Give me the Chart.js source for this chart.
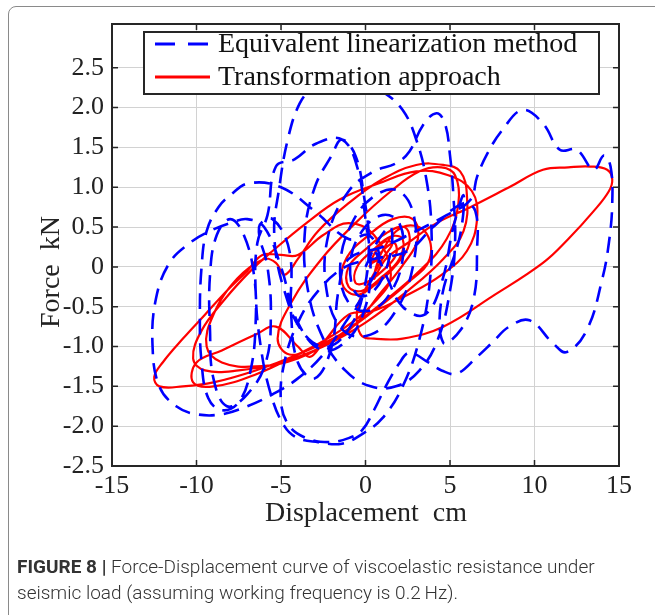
<!DOCTYPE html>
<html>
<head>
<meta charset="utf-8">
<script src="https://cdn.jsdelivr.net/npm/chart.js@4.4.1/dist/chart.umd.min.js"></script>
<style>
body{margin:0;background:#fff;}
#wrap{position:relative;width:655px;height:615px;overflow:hidden;background:#fff;}
#frame{position:absolute;left:8px;top:6px;width:700px;height:700px;border:1.5px solid #8a8a8a;border-radius:8px;}
#graf{position:absolute;left:0;top:0;}
.ttl{position:absolute;font-family:"Liberation Serif",serif;font-size:28px;line-height:28px;color:#222;white-space:pre;text-align:center;width:300px;}
#xt{left:216px;top:498px;}
#yt{left:-100px;top:258px;transform:rotate(-90deg);}
#cap{position:absolute;left:17px;top:554px;font-family:Roboto,sans-serif;font-size:19px;line-height:26px;color:#333;font-weight:300;}
#cap b{font-weight:700;}
</style>
</head>
<body>
<div id="wrap">
<div id="frame"></div>
<canvas id="graf" width="655" height="615"></canvas>
<div class="ttl" id="xt">Displacement  cm</div>
<div class="ttl" id="yt">Force  kN</div>
<div id="cap"><b>FIGURE 8 |</b> Force-Displacement curve of viscoelastic resistance under<br>seismic load (assuming working frequency is 0.2&#8201;Hz).</div>
</div>
<script>
// ticks
const xTicks=[-15,-10,-5,0,5,10,15];
const yTicks=[-2.5,-2.0,-1.5,-1.0,-0.5,0,0.5,1.0,1.5,2.0,2.5];

// Equivalent linearization method (blue, dashed)
const eqlDisp=[0.0,0.8,1.5,1.4,0.5,-0.5,-0.9,-0.2,1.0,2.0,2.2,1.4,0.2,-1.0,-1.5,-0.8,0.6,2.0,2.9,2.8,1.8,0.3,-1.3,-2.3,-2.2,-1.0,
0.5,1.8,2.6,3.4,4.2,4.7,5.0,5.2,5.3,5.0,4.3,3.2,1.8,0.3,-1.2,-2.5,-3.4,-3.6,-3.0,-2.0,-1.4,-0.6,-0.1,0.2,-0.1,-0.9,-2.2,-3.6,-4.8,-5.4,-5.1,
-4.6,-3.9,-3.1,-2.0,-0.5,1.0,2.2,3.0,3.6,3.9,3.8,3.2,2.2,1.0,-0.2,-1.4,-2.8,-4.0,-4.8,-5.6,-6.2,-6.5,-6.4,-5.8,
-5.3,-4.2,-2.9,-1.4,-0.5,0.0,0.3,0.0,-1.0,-2.5,-4.0,-5.0,-6.0,-7.0,
-8.0,-9.2,-10.4,-11.6,-12.4,-12.6,-12.2,-11.2,-10.0,-8.5,-7.0,-5.5,-4.0,-2.5,-1.2,0.0,0.8,0.2,-1.0,
-3.0,-5.0,-6.9,-8.0,-8.7,-9.4,-9.7,-9.8,-9.7,-9.3,-8.5,-7.5,-6.8,-6.5,-6.6,-7.2,-8.0,-8.8,-9.2,-9.2,-9.0,-8.2,-7.0,-5.9,-5.6,-5.8,-6.3,-5.5,-4.5,-4.4,-4.0,-3.0,-2.0,-1.6,-1.0,
1.0,3.0,4.8,6.2,6.6,7.2,8.1,9.3,10.5,11.5,12.5,13.5,14.1,14.5,14.6,14.4,14.0,13.1,11.9,11.1,9.7,8.5,7.5,6.6,5.4,4.5,3.8,2.6,2.0,1.2,0.5,-0.2,
-1.0,-2.2,-3.5,-4.5,-5.0,-4.8,-4.0,-2.8,-1.2,
0.5,2.5,4.0,5.8,6.5,6.6,6.4,5.6,4.6,4.5,5.6,5.8,5.2,4.5,3.5,2.2,1.2,0.5,0.2];
const eqlForce=[0.0,0.35,0.5,0.1,-0.3,-0.35,0.05,0.45,0.65,0.55,0.1,-0.35,-0.55,-0.45,0.0,0.55,0.9,0.95,0.6,0.0,-0.55,-0.85,-0.8,-0.3,0.4,0.95,
1.2,1.3,1.45,1.78,1.93,1.8,1.4,0.9,0.3,-0.3,-0.9,-1.3,-1.5,-1.5,-1.3,-0.9,-0.3,0.4,1.0,1.4,1.6,1.4,0.9,0.3,-0.3,-0.75,-1.0,-0.85,-0.3,0.4,1.0,
1.6,2.05,2.25,2.35,2.35,2.2,1.97,1.6,1.1,0.5,-0.2,-0.9,-1.5,-1.9,-2.1,-2.22,-2.2,-2.15,-2.0,-1.6,-1.0,-0.3,0.3,0.65,
1.26,1.35,1.55,1.6,1.26,0.6,0.0,-0.5,-0.9,-1.05,-0.7,0.0,0.5,0.6,
0.55,0.45,0.3,0.05,-0.4,-1.0,-1.5,-1.75,-1.85,-1.85,-1.75,-1.6,-1.4,-1.1,-0.7,-0.3,0.1,0.4,0.35,
0.7,1.0,1.05,0.9,0.75,0.45,0.0,-0.6,-1.2,-1.65,-1.8,-1.7,-1.3,-0.7,-0.1,0.4,0.6,0.4,-0.1,-0.8,-1.4,-1.75,-1.6,-1.2,-0.6,0.0,0.5,0.6,0.2,-0.6,-1.2,-1.4,-1.0,-0.3,0.1,
0.25,0.45,0.65,0.84,1.13,1.42,1.72,1.97,1.8,1.47,1.47,1.22,1.4,1.26,0.8,0.3,-0.16,-0.79,-1.07,-0.96,-0.67,-0.75,-0.95,-1.13,-1.34,-1.3,-1.21,-1.08,-1.21,-1.5,-1.8,-2.05,
-2.15,-2.2,-2.15,-2.0,-1.7,-1.2,-0.7,-0.3,0.0,
0.1,0.2,0.5,0.8,0.7,0.2,-0.4,-0.8,-0.95,-0.4,0.4,0.9,0.5,-0.2,-0.6,-0.5,-0.1,0.2,0.05];

// Transformation approach (red, solid)
const taDisp=[0.2,1.0,1.7,1.8,1.0,0.0,-0.6,-0.5,0.4,1.5,2.2,2.0,1.0,-0.2,-1.0,-1.0,0.0,1.2,2.3,2.6,1.8,0.6,-0.6,-1.4,-1.1,0.2,1.6,2.8,3.1,2.3,1.0,
-1.0,-3.0,-4.5,-5.2,-4.4,-2.6,-0.6,1.5,3.2,4.5,5.3,5.5,4.8,3.2,1.0,-1.5,-4.0,-6.5,-8.5,-9.4,-9.0,-7.6,-6.0,-5.3,-4.8,-4.0,-2.8,-1.0,
1.0,3.0,4.6,5.6,6.0,5.8,4.6,2.5,0.0,-2.5,-5.0,-7.5,-9.5,-10.2,-9.7,-8.3,-6.8,-5.5,-3.5,-1.5,0.8,3.0,4.9,6.3,6.6,6.0,4.5,2.5,0.5,-1.0,
-2.5,-3.3,-4.0,-5.3,-6.5,-8.5,-10.0,-10.2,-9.0,-6.5,-4.0,-1.5,0.5,1.5,
0.5,-1.0,-2.5,-4.0,-5.0,-6.1,-7.0,-8.2,-9.5,-10.8,-12.0,-12.5,-12.2,-10.8,-9.0,-6.5,-4.0,-1.5,0.5,2.5,3.8,3.5,2.2,1.0,0.5,1.2,
2.5,4.2,6.2,8.5,10.5,12.0,13.3,14.3,14.6,14.4,13.5,12.0,10.5,7.5,4.6,2.2,0.5,-0.2,-0.5,-0.4,0.2,1.0,1.6,1.0,0.3,0.8];
const taForce=[0.0,0.2,0.3,0.15,-0.05,-0.2,-0.2,0.0,0.2,0.38,0.35,0.1,-0.12,-0.3,-0.25,0.0,0.22,0.42,0.5,0.3,0.02,-0.22,-0.35,-0.2,0.12,0.4,0.6,0.6,0.35,0.05,-0.3,
-0.8,-1.0,-1.1,-0.9,-0.45,0.1,0.55,0.95,1.2,1.25,1.15,0.8,0.35,-0.05,-0.45,-0.85,-1.15,-1.25,-1.2,-1.0,-0.6,-0.15,0.1,0.05,-0.1,0.1,0.45,0.8,
1.1,1.28,1.28,1.2,0.9,0.45,0.1,-0.3,-0.7,-1.0,-1.2,-1.3,-1.3,-1.15,-0.8,-0.4,-0.05,0.2,0.55,0.85,1.05,1.2,1.15,0.95,0.6,0.2,-0.1,-0.35,-0.55,-0.6,
-0.95,-1.13,-1.0,-0.75,-0.85,-1.05,-1.2,-1.45,-1.5,-1.35,-1.1,-0.8,-0.45,-0.1,
0.4,0.55,0.4,0.15,0.15,0.15,-0.05,-0.3,-0.6,-0.9,-1.2,-1.38,-1.5,-1.5,-1.45,-1.3,-1.1,-0.85,-0.55,-0.2,0.1,0.45,0.5,0.2,-0.15,0.1,
0.3,0.55,0.75,1.0,1.22,1.25,1.26,1.22,1.1,0.95,0.7,0.35,0.05,-0.37,-0.75,-0.9,-0.9,-0.87,-0.7,-0.45,-0.2,0.1,0.3,0.3,0.05,0.1];

const toPts=(xs,ys)=>xs.map((x,i)=>({x:x,y:ys[i]}));

// inward ticks on all four sides plus the axes box
const boxTicks={
    id:'boxTicks',
    afterDraw(chart){
        const {ctx,chartArea:a,scales}=chart;
        const len=6;
        ctx.save();
        ctx.strokeStyle='#262626';
        ctx.lineWidth=1.5;
        ctx.beginPath();
        xTicks.forEach(v=>{
            const px=scales.x.getPixelForValue(v);
            ctx.moveTo(px,a.bottom);ctx.lineTo(px,a.bottom-len);
            ctx.moveTo(px,a.top);ctx.lineTo(px,a.top+len);
        });
        yTicks.forEach(v=>{
            const py=scales.y.getPixelForValue(v);
            ctx.moveTo(a.left,py);ctx.lineTo(a.left+len,py);
            ctx.moveTo(a.right,py);ctx.lineTo(a.right-len,py);
        });
        ctx.stroke();
        ctx.lineWidth=2;
        ctx.strokeRect(a.left,a.top,a.right-a.left,a.bottom-a.top);
        ctx.restore();
    }
};

// boxed legend in the top of the plot
const boxLegend={
    id:'boxLegend',
    afterDraw(chart){
        const {ctx,chartArea:a}=chart;
        const x0=a.left+32,y0=a.top+8,w=455,h=62;
        ctx.save();
        ctx.fillStyle='#fff';
        ctx.fillRect(x0,y0,w,h);
        ctx.strokeStyle='#262626';
        ctx.lineWidth=2;
        ctx.strokeRect(x0,y0,w,h);
        chart.data.datasets.forEach((ds,i)=>{
            const y=y0+12+i*33;
            ctx.beginPath();
            ctx.setLineDash(ds.borderDash?[20,13]:[]);
            ctx.strokeStyle=ds.borderColor;
            ctx.lineWidth=3;
            ctx.moveTo(x0+11,y);ctx.lineTo(x0+66,y);
            ctx.stroke();
            ctx.setLineDash([]);
            ctx.fillStyle='#111';
            ctx.font='28px "Liberation Serif"';
            ctx.textBaseline='middle';
            ctx.fillText(ds.label,x0+74,y+1);
        });
        ctx.restore();
    }
};

const serif={family:'"Liberation Serif", serif',size:26};

new Chart(document.getElementById('graf'),{
    type:'scatter',
    data:{
        datasets:[
            {
                label:'Equivalent linearization method',
                data:toPts(eqlDisp,eqlForce),
                showLine:true,
                borderColor:'rgb(0,0,255)',
                borderWidth:2.6,
                borderDash:[16,9],
                pointRadius:0,
                tension:0.4
            },
            {
                label:'Transformation approach',
                data:toPts(taDisp,taForce),
                showLine:true,
                borderColor:'rgb(255,0,0)',
                borderWidth:2.2,
                pointRadius:0,
                tension:0.4
            }
        ]
    },
    options:{
        responsive:false,
        animation:false,
        layout:{padding:{top:24,right:36,left:0,bottom:0}},
        plugins:{legend:{display:false},tooltip:{enabled:false}},
        scales:{
            x:{
                type:'linear',min:-15,max:15,
                afterBuildTicks:s=>{s.ticks=xTicks.map(v=>({value:v}));},
                afterFit:s=>{s.height=149;},
                grid:{color:'#d2d2d2',lineWidth:1,drawTicks:false},
                border:{display:false},
                ticks:{font:serif,color:'#222',padding:5,maxRotation:0,autoSkip:false,callback:v=>String(v)}
            },
            y:{
                type:'linear',min:-2.5,max:3.05,
                afterBuildTicks:s=>{s.ticks=yTicks.map(v=>({value:v}));},
                afterFit:s=>{s.width=112;},
                grid:{color:'#d2d2d2',lineWidth:1,drawTicks:false},
                border:{display:false},
                ticks:{font:serif,color:'#222',padding:8,autoSkip:false,callback:v=>v===0?'0':v.toFixed(1)}
            }
        }
    },
    plugins:[boxTicks,boxLegend]
});
</script>
</body>
</html>
